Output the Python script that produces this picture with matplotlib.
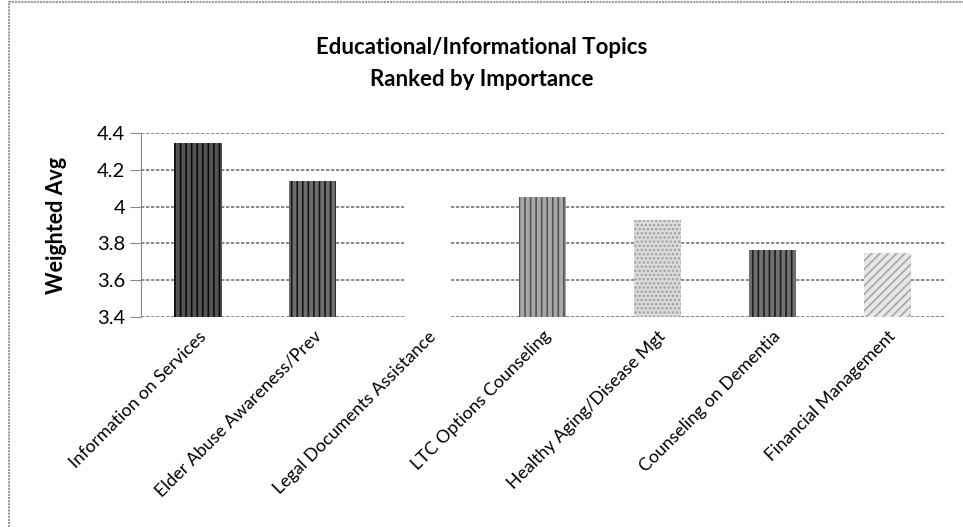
import matplotlib.pyplot as plt
import matplotlib.patches as mpatches
import numpy as np

topics = ['Information on Services', 'Elder Abuse Awareness/Prev',
          'Legal Documents Assistance', 'LTC Options Counseling',
          'Healthy Aging/Disease Mgt', 'Counseling on Dementia',
          'Financial Management']
weighted_avg = [4.345, 4.14, 4.10, 4.05, 3.925, 3.765, 3.75]
y_ticks = [3.4, 3.6, 3.8, 4.0, 4.2, 4.4]
y_tick_labels = ['3.4', '3.6', '3.8', '4', '4.2', '4.4']

# excel-like pattern fills, approximated with hatches
faces = ['#555555', '#6e6e6e', '#ffffff', '#a8a8a8', '#dcdcdc', '#707070', '#e8e8e8']
hatch_cols = ['#0a0a0a', '#151515', '#ffffff', '#555555', '#a0a0a0', '#1e1e1e', '#a8a8a8']
hatches = ['|||', '|||', '', '|||', '....', '|||', '////']

plt.rcParams['font.family'] = ['Lato', 'DejaVu Sans']
plt.rcParams['hatch.linewidth'] = 1.2

fig = plt.figure(figsize=(9.63, 5.27), dpi=100)
ax = fig.add_axes([0.146, 0.3985, 0.835, 0.349])

x = np.arange(len(topics))
for i in range(len(topics)):
    ax.bar(x[i], weighted_avg[i] - 3.4, bottom=3.4, width=0.41,
           color=faces[i], edgecolor=hatch_cols[i], hatch=hatches[i],
           linewidth=0, zorder=3)

ax.set_ylim(3.4, 4.4)
ax.set_xlim(-0.5, len(topics) - 0.5)
ax.set_yticks(y_ticks)
ax.set_yticklabels(y_tick_labels, fontsize=14.5)
ax.set_xticks(x)
ax.set_xticklabels(topics, rotation=45, ha='right', va='top',
                   rotation_mode='anchor', fontsize=12.8)
ax.tick_params(axis='x', length=0, pad=8)
ax.tick_params(axis='y', length=8, width=0.8, color='#888888', direction='out', pad=3)
ax.yaxis.grid(True, color='#777777', linestyle=(0, (2, 1)), linewidth=1.2, zorder=1)
for s in ['top', 'right', 'bottom']:
    ax.spines[s].set_visible(False)
ax.spines['left'].set_color('#888888')
ax.set_ylabel('Weighted Avg', fontsize=15.5, fontweight='bold')
ax.yaxis.set_label_coords(-0.092, 0.5)

fig.text(0.5, 0.8795, 'Educational/Informational Topics\nRanked by Importance',
         ha='center', va='center', fontsize=16, fontweight='bold', linespacing=1.6)

# chart border
border = mpatches.Rectangle((0.009, -0.02), 1.2, 1.016, transform=fig.transFigure,
                            fill=False, edgecolor='#999999', linewidth=1.5,
                            linestyle=(0, (1, 0.5)))
fig.patches.append(border)

fig.savefig('out.png', dpi=100)
